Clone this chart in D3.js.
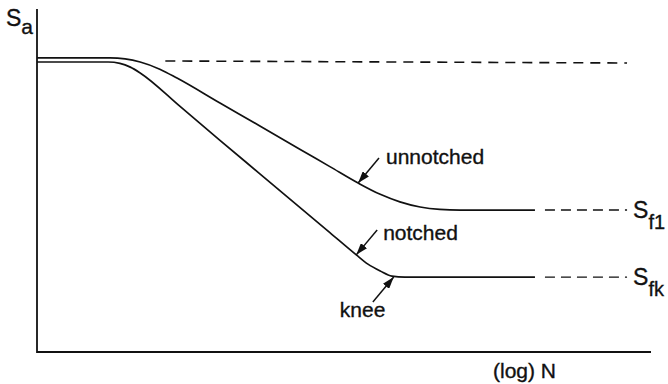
<!DOCTYPE html>
<html>
<head>
<meta charset="utf-8">
<script src="https://cdn.jsdelivr.net/npm/d3@7"></script>
<style>
  html, body { margin: 0; padding: 0; background: #fff; }
  svg { display: block; }
  text { font-family: "Liberation Sans", Arial, sans-serif; font-size: 21px; fill: #111; stroke: #111; stroke-width: 0.35px; }
  .big { font-size: 23px; }
  .sub { font-size: 20px; }
</style>
</head>
<body>
<svg id="chart" width="668" height="384"></svg>
<script>
// ---- data (abstract units: x = log N, 0..100 ; y = Sa, 0..100) ----
const unnotchedCurve = [
  [0, 86.0], [11.9, 86.0], [16.8, 84.8], [20.0, 82.7], [22.8, 80.1],
  [29.8, 72.8], [36.3, 66.1], [42.8, 59.3], [47.7, 54.2],
  [52.3, 49.4], [55.9, 46.1], [59.1, 43.9], [62.4, 42.4], [65.6, 41.7],
  [68.9, 41.5], [81.1, 41.5]
];
const notchedCurve = [
  [0, 84.8], [11.6, 84.8], [13.5, 84.4], [15.2, 83.3], [16.8, 81.6],
  [23.3, 71.8], [29.8, 61.9], [36.3, 52.1], [42.8, 42.3], [47.7, 34.9],
  [52.0, 28.4], [53.9, 25.7], [55.9, 23.7], [57.8, 22.2], [59.9, 21.9],
  [81.1, 21.9]
];
const enduranceLevels = [41.5, 21.9];         // Sf1, Sfk
const enduranceLabels = [["S", "f1"], ["S", "fk"]];
const dashStartEnd = [81.1, 96.1];
const staticLine = [[20.9, 85.1], [96.1, 84.5]];
const annotations = [
  { label: "unnotched", tail: [55.7, 56.7], tip: [52.3, 49.4] },
  { label: "notched",   tail: [55.4, 35.7], tip: [52.0, 28.4] },
  { label: "knee",      tail: [54.7, 14.6], tip: [58.1, 21.9] }
];
const axisLabels = { y: ["S", "a"], x: "(log) N" };

// ---- layout ----
const svg = d3.select("#chart");
const x = d3.scaleLinear().domain([0, 100]).range([37, 651]);
const y = d3.scaleLinear().domain([0, 100]).range([352, 10]);
const ink = "#111";

// axes (plain lines, no ticks)
svg.append("line").attr("x1", x(0)).attr("x2", x(0)).attr("y1", y(100) - 1).attr("y2", y(0) + 1)
  .attr("stroke", ink).attr("stroke-width", 1.8);
svg.append("line").attr("x1", x(0)).attr("x2", x(100)).attr("y1", y(0)).attr("y2", y(0))
  .attr("stroke", ink).attr("stroke-width", 1.8);

// curves
const line = d3.line().x(d => x(d[0])).y(d => y(d[1])).curve(d3.curveMonotoneX);
[unnotchedCurve, notchedCurve].forEach(c => {
  svg.append("path").attr("d", line(c)).attr("fill", "none")
    .attr("stroke", ink).attr("stroke-width", 1.7);
});

// dashed extensions
enduranceLevels.forEach(v => {
  svg.append("line").attr("x1", x(dashStartEnd[0]) + 10).attr("x2", x(dashStartEnd[1]))
    .attr("y1", y(v)).attr("y2", y(v))
    .attr("stroke", ink).attr("stroke-width", 1.4).attr("stroke-dasharray", "10,6");
});
svg.append("line").attr("x1", x(staticLine[0][0])).attr("x2", x(staticLine[1][0]))
  .attr("y1", y(staticLine[0][1])).attr("y2", y(staticLine[1][1]))
  .attr("stroke", ink).attr("stroke-width", 1.6).attr("stroke-dasharray", "10,7");

// endurance labels
enduranceLevels.forEach((v, i) => {
  const t = svg.append("text").attr("x", x(dashStartEnd[1]) + 6).attr("y", y(v) + 8);
  t.append("tspan").attr("class", "big").text(enduranceLabels[i][0]);
  t.append("tspan").attr("class", "sub").attr("dy", 11).text(enduranceLabels[i][1]);
});

// y label
const yl = svg.append("text").attr("x", 6).attr("y", 26);
yl.append("tspan").attr("class", "big").text(axisLabels.y[0]);
yl.append("tspan").attr("dy", 8).text(axisLabels.y[1]);

// x label
svg.append("text").attr("x", 493).attr("y", 378).text(axisLabels.x);

// annotations with arrows
svg.append("defs").append("marker")
  .attr("id", "arrow").attr("markerUnits", "userSpaceOnUse")
  .attr("viewBox", "0 0 12 8").attr("refX", 12).attr("refY", 4)
  .attr("markerWidth", 12).attr("markerHeight", 8).attr("orient", "auto")
  .append("path").attr("d", "M0,0 L12,4 L0,8 Z").attr("fill", ink);

annotations.forEach(a => {
  svg.append("line")
    .attr("x1", x(a.tail[0])).attr("y1", y(a.tail[1]))
    .attr("x2", x(a.tip[0])).attr("y2", y(a.tip[1]))
    .attr("stroke", ink).attr("stroke-width", 1.5).attr("marker-end", "url(#arrow)");
});
const labelPos = {
  unnotched: [x(annotations[0].tail[0]) + 7, y(annotations[0].tail[1]) + 6],
  notched:   [x(annotations[1].tail[0]) + 6, y(annotations[1].tail[1]) + 10],
  knee:      [x(annotations[2].tail[0]) - 33, y(annotations[2].tail[1]) + 15]
};
annotations.forEach(a => {
  svg.append("text").attr("x", labelPos[a.label][0]).attr("y", labelPos[a.label][1]).text(a.label);
});
</script>
</body>
</html>
